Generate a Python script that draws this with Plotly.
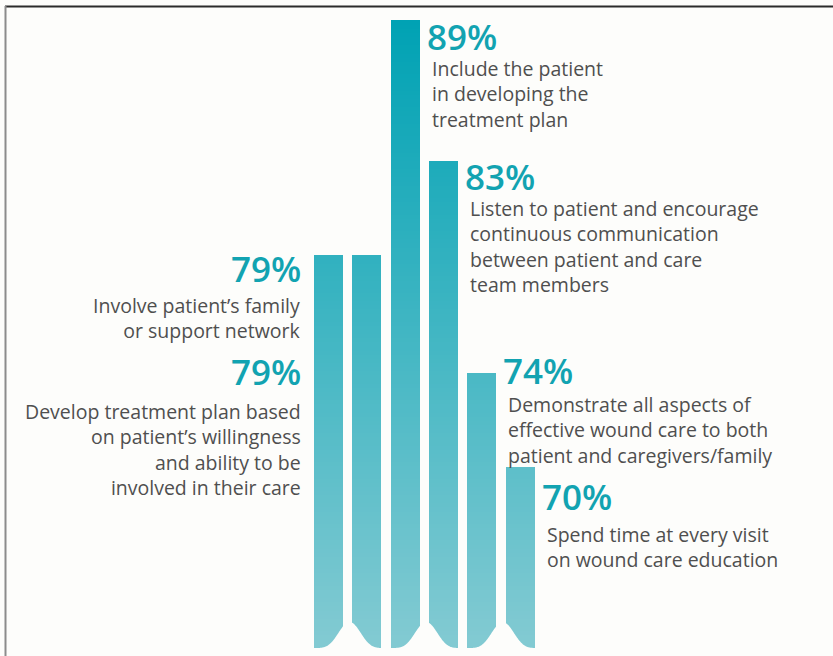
import numpy as np
import plotly.graph_objects as go

# ---------------- data ----------------
values = [79, 79, 89, 83, 74, 70]
pct_labels = ["79%", "79%", "89%", "83%", "74%", "70%"]
descriptions = [
    "Involve patient’s family<br>or support network",
    "Develop treatment plan based<br>on patient’s willingness<br>and ability to be<br>involved in their care",
    "Include the patient<br>in developing the<br>treatment plan",
    "Listen to patient and encourage<br>continuous communication<br>between patient and care<br>team members",
    "Demonstrate all aspects of<br>effective wound care to both<br>patient and caregivers/family",
    "Spend time at every visit<br>on wound care education",
]

# ---------------- layout constants ----------------
W, H = 833, 656
BG = "#fdfdfb"
TEAL_TEXT = "#12a3b1"
GREY_TEXT = "#4f4f4f"
PX_PER_UNIT = 23.5           # vertical scale
Y_MAX = 89 + 20 / PX_PER_UNIT
Y_MIN = Y_MAX - H / PX_PER_UNIT
PITCH = 38.3                 # px between bar centres
X0_PX = 328.5                # px of first bar centre
X_MIN = -X0_PX / PITCH
X_MAX = X_MIN + W / PITCH
BAR_W = 29 / PITCH

top_rgb = np.array([0, 162, 180])
bot_rgb = np.array([130, 202, 210])


def colour_at(level):
    py = (Y_MAX - level) * PX_PER_UNIT
    t = np.clip((py - 20) / (640 - 20), 0, 1)
    c = top_rgb + (bot_rgb - top_rgb) * t
    return "rgb(%d,%d,%d)" % tuple(c.round().astype(int))


xs = list(range(len(values)))
fig = go.Figure()

# gradient bars: overlaid layers, darkest (tallest) first
levels = np.linspace(Y_MAX, Y_MIN, 160)
for k, L in enumerate(levels):
    fig.add_trace(go.Bar(
        x=xs, y=[min(v, L) for v in values], width=BAR_W,
        marker=dict(color=colour_at(L), line=dict(width=0)),
        hoverinfo="skip" if k else "y", showlegend=False,
    ))

# wavy bottom mask (decoration)
wx = np.linspace(-0.6, 5.6, 400)
peaks = 0.55 + 2 * np.round((wx - 0.55) / 2)
d = wx - peaks
hump = ((1 + np.cos(np.pi * d)) / 2) ** 2.5
wy_px = 648 - 26 * hump
wy = 1 - wy_px / H
path = "M %.4f,%.5f " % (X_MIN - 1, wy[0])
path += " ".join("L %.4f,%.5f" % (a, b) for a, b in zip(wx, wy))
path += " L %.4f,%.5f L %.4f,-0.01 L %.4f,-0.01 Z" % (X_MAX + 1, wy[-1], X_MAX + 1, X_MIN - 1)

shapes = [
    dict(type="path", path=path, xref="x", yref="paper", fillcolor=BG,
         line=dict(width=0), layer="above"),
    dict(type="line", xref="paper", yref="paper", x0=5 / W, x1=1,
         y0=1 - 6.5 / H, y1=1 - 6.5 / H, line=dict(color="#2b2b2b", width=2)),
    dict(type="line", xref="paper", yref="paper", x0=5.5 / W, x1=5.5 / W,
         y0=0, y1=1 - 6 / H, line=dict(color="#8c8c8c", width=2)),
]

# label placement (px below bar top: positive = lower)
pct_off = [-12, 91, -9, -10, -28, 4]
desc_off = [35, 141, 33, 32, 16, 52]

annotations = []
for i, v in enumerate(values):
    left = i < 2
    x = 0 - BAR_W / 2 if left else i + BAR_W / 2
    anchor = "right" if left else "left"
    annotations.append(dict(
        x=x, y=v, xref="x", yref="y", text=pct_labels[i], showarrow=False,
        xanchor=anchor, yanchor="top", xshift=-11 if left else 5,
        yshift=-pct_off[i],
        font=dict(family="Open Sans", size=35, color=TEAL_TEXT, weight=600),
    ))
    annotations.append(dict(
        x=x, y=v, xref="x", yref="y", text=descriptions[i], showarrow=False,
        xanchor=anchor, yanchor="top", align=anchor, xshift=-11 if left else 10,
        yshift=-desc_off[i],
        font=dict(family="Open Sans", size=19.5, color=GREY_TEXT),
    ))

fig.update_layout(
    width=W, height=H, autosize=False,
    margin=dict(l=0, r=0, t=0, b=0),
    paper_bgcolor=BG, plot_bgcolor=BG,
    barmode="overlay", bargap=0,
    xaxis=dict(range=[X_MIN, X_MAX], visible=False, fixedrange=True),
    yaxis=dict(range=[Y_MIN, Y_MAX], visible=False, fixedrange=True),
    shapes=shapes, annotations=annotations,
)

fig.write_html("out.html")
